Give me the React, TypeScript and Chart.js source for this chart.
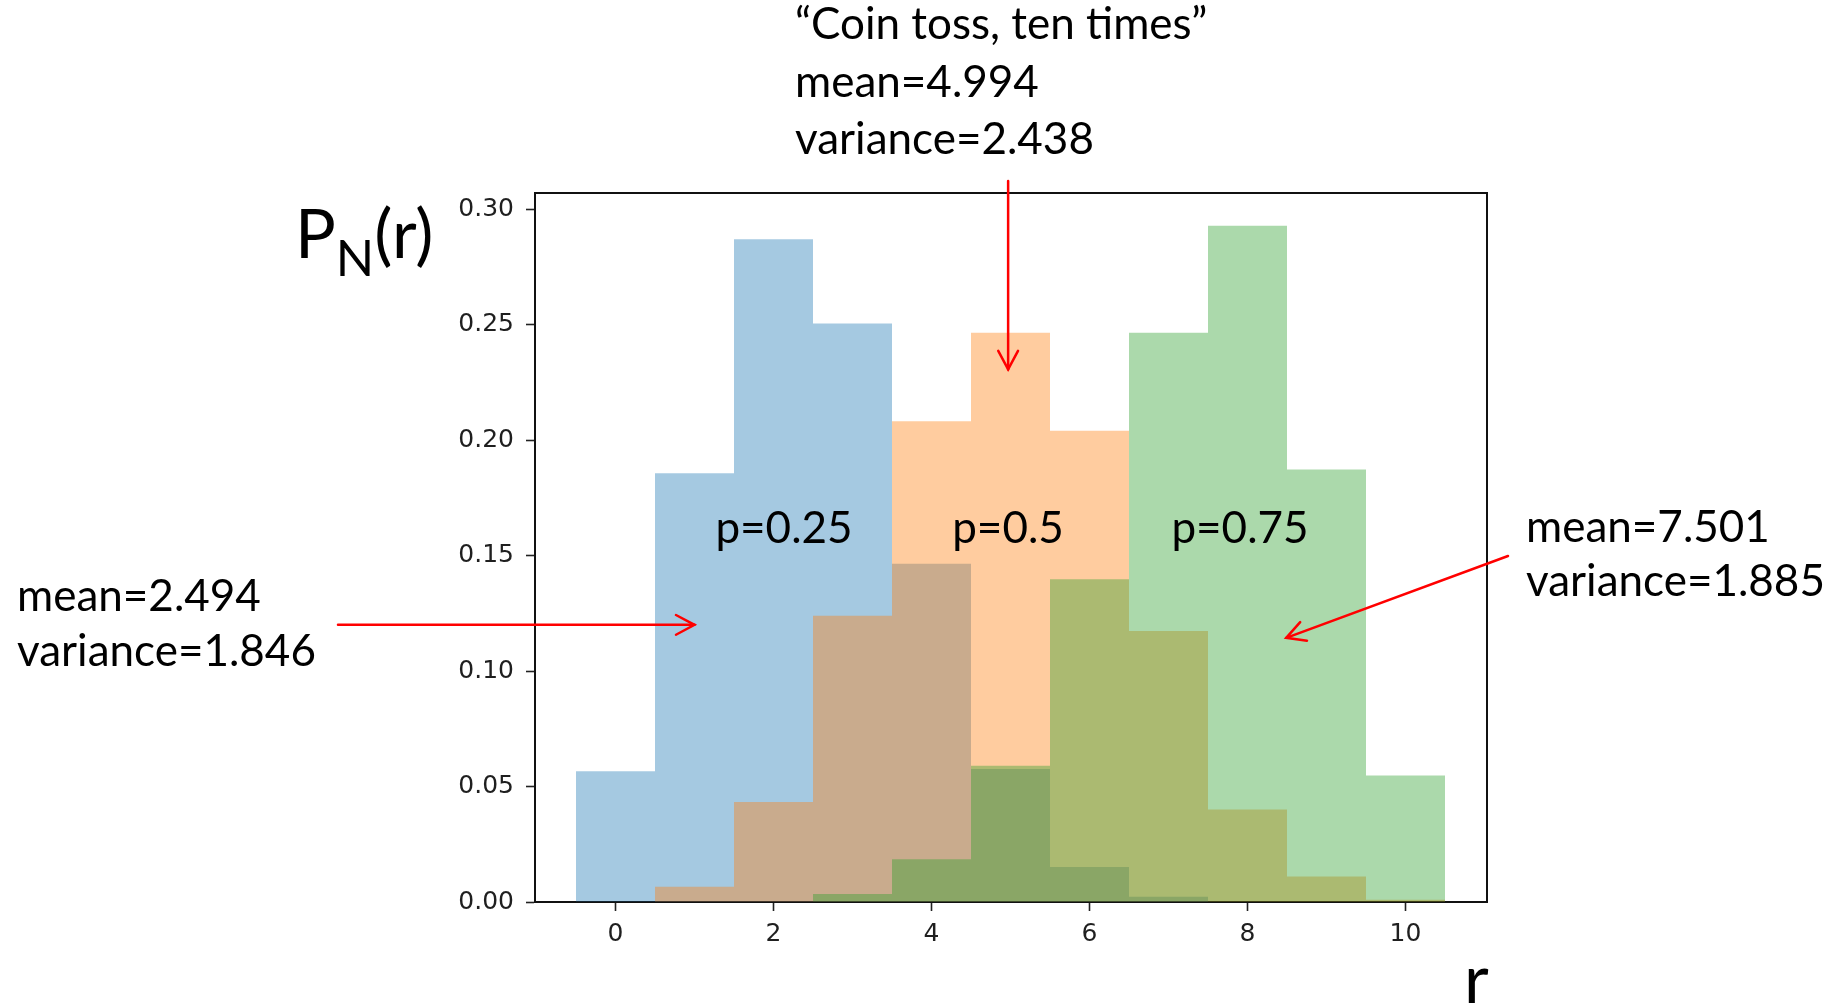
import React, { useEffect, useRef } from 'react';
import { Chart, registerables } from 'chart.js';

Chart.register(...registerables);

// ---- data ----
const R_VALUES = [0, 1, 2, 3, 4, 5, 6, 7, 8, 9, 10];
const P_025 = [0.0566, 0.1856, 0.287, 0.2505, 0.1465, 0.0576, 0.0152, 0.0023, 0, 0, 0];
const P_050 = [0, 0.0066, 0.0433, 0.1239, 0.2082, 0.2465, 0.204, 0.1173, 0.0401, 0.011, 0.001];
const P_075 = [0, 0, 0, 0.0035, 0.0185, 0.059, 0.1397, 0.2465, 0.2928, 0.1873, 0.0548];
const SERIES_LABELS = ['p=0.25', 'p=0.5', 'p=0.75'];
const X_TICKS = [0, 2, 4, 6, 8, 10];
const Y_TICKS = [0, 0.05, 0.1, 0.15, 0.2, 0.25, 0.3];
// x limits chosen so that bin edges fall on whole pixels (no anti-alias seams)
const X_RANGE = [-0.5 - 41 / 79, -0.5 - 41 / 79 + 952 / 79];
const Y_RANGE = [0, 0.307];

// annotation arrows: tail in page pixels, tip in data coordinates
const ARROWS = [
  { tailPx: [338, null], tip: [1.0, 0.12] },
  { tailPx: [null, 181], tip: [4.97, 0.2306] },
  { tailPx: [1508, 556], tip: [8.49, 0.1144] },
];

const COLORS = ['rgba(31,119,180,0.4)', 'rgba(255,127,14,0.4)', 'rgba(44,160,44,0.4)'];
const TICK_FONT = { family: '"DejaVu Sans", sans-serif', size: 25 };
const TEXT_FONT = 'Lato, "Open Sans", sans-serif';

const framePlugin = {
  id: 'frameAndArrows',
  afterDraw(chart: any) {
    const { ctx, chartArea } = chart;
    ctx.save();
    ctx.strokeStyle = '#111';
    ctx.lineWidth = 2;
    ctx.beginPath();
    ctx.moveTo(chartArea.left - 1, chartArea.top);
    ctx.lineTo(chartArea.right, chartArea.top);
    ctx.lineTo(chartArea.right, chartArea.bottom + 1);
    ctx.stroke();

    const xs = chart.scales.x;
    const ys = chart.scales.y;
    ctx.strokeStyle = '#ff0000';
    ctx.lineWidth = 2.5;
    ctx.lineCap = 'round';
    for (const a of ARROWS) {
      const tx = xs.getPixelForValue(a.tip[0]);
      const ty = ys.getPixelForValue(a.tip[1]);
      const sx = a.tailPx[0] == null ? tx : (a.tailPx[0] as number);
      const sy = a.tailPx[1] == null ? ty : (a.tailPx[1] as number);
      ctx.beginPath();
      ctx.moveTo(sx, sy);
      ctx.lineTo(tx, ty);
      ctx.stroke();
      const ang = Math.atan2(ty - sy, tx - sx);
      const len = 21;
      const spread = 0.49;
      ctx.beginPath();
      ctx.moveTo(tx - len * Math.cos(ang - spread), ty - len * Math.sin(ang - spread));
      ctx.lineTo(tx, ty);
      ctx.lineTo(tx - len * Math.cos(ang + spread), ty - len * Math.sin(ang + spread));
      ctx.stroke();
    }
    ctx.restore();
  },
};

export default function App() {
  const canvasRef = useRef<HTMLCanvasElement | null>(null);

  useEffect(() => {
    const canvas = canvasRef.current;
    if (!canvas) return;
    const seriesData = [P_025, P_050, P_075];
    const chart = new Chart(canvas, {
      type: 'bar',
      data: {
        datasets: seriesData.map((vals, i) => ({
          label: SERIES_LABELS[i],
          data: R_VALUES.map((r, j) => ({ x: r, y: vals[j] })),
          backgroundColor: COLORS[i],
          borderWidth: 0,
          grouped: false,
          barPercentage: 1,
          categoryPercentage: 1,
          inflateAmount: 0,
          order: 3 - i,
        })),
      },
      options: {
        responsive: false,
        animation: false,
        events: [],
        layout: { padding: { left: 435, top: 193, right: 347, bottom: 42 } },
        plugins: { legend: { display: false }, tooltip: { enabled: false } },
        scales: {
          x: {
            type: 'linear',
            min: X_RANGE[0],
            max: X_RANGE[1],
            offset: false,
            z: 1,
            afterBuildTicks: (s: any) => { s.ticks = X_TICKS.map((v) => ({ value: v })); },
            afterFit: (s: any) => { s.height = 60; },
            grid: { display: true, offset: false, drawOnChartArea: false, drawTicks: true, tickLength: 9, tickWidth: 1.6, tickColor: '#222' },
            border: { display: true, color: '#111', width: 2 },
            ticks: { font: TICK_FONT, color: '#1f1f1f', padding: 8, maxRotation: 0, autoSkip: false, callback: (v: any) => String(v) },
          },
          y: {
            type: 'linear',
            min: Y_RANGE[0],
            max: Y_RANGE[1],
            z: 1,
            afterBuildTicks: (s: any) => { s.ticks = Y_TICKS.map((v) => ({ value: v })); },
            afterFit: (s: any) => { s.width = 100; },
            grid: { display: true, drawOnChartArea: false, drawTicks: true, tickLength: 9, tickWidth: 1.6, tickColor: '#222' },
            border: { display: true, color: '#111', width: 2 },
            ticks: { font: TICK_FONT, color: '#1f1f1f', padding: 12, autoSkip: false, callback: (v: any) => Number(v).toFixed(2) },
          },
        },
      },
      plugins: [framePlugin],
    } as any);
    return () => chart.destroy();
  }, []);

  const txt: React.CSSProperties = {
    position: 'absolute',
    fontFamily: TEXT_FONT,
    fontSize: 44,
    color: '#000',
    whiteSpace: 'pre',
  };

  return (
    <div style={{ position: 'absolute', left: 0, top: 0, width: 1834, height: 1004, background: '#fff', overflow: 'hidden' }}>
      <canvas ref={canvasRef} width={1834} height={1004} style={{ display: 'block', width: 1834, height: 1004 }} />
      <div style={{ ...txt, left: 795, top: -6, lineHeight: '57.5px' }}>
        {'\u201CCoin toss, ten times\u201D\nmean=4.994\nvariance=2.438'}
      </div>
      <div style={{ ...txt, left: 17, top: 567, lineHeight: '55px' }}>{'mean=2.494\nvariance=1.846'}</div>
      <div style={{ ...txt, left: 1526, top: 498, lineHeight: '54px' }}>{'mean=7.501\nvariance=1.885'}</div>
      <div style={{ ...txt, left: 784, top: 499, lineHeight: '54px', transform: 'translateX(-50%)' }}>{SERIES_LABELS[0]}</div>
      <div style={{ ...txt, left: 1008, top: 499, lineHeight: '54px', transform: 'translateX(-50%)' }}>{SERIES_LABELS[1]}</div>
      <div style={{ ...txt, left: 1240, top: 499, lineHeight: '54px', transform: 'translateX(-50%)' }}>{SERIES_LABELS[2]}</div>
      <div style={{ ...txt, left: 295, top: 190, fontSize: 68, lineHeight: '84px' }}>
        P<span style={{ fontSize: '0.74em', position: 'relative', top: '0.36em' }}>N</span>(r)
      </div>
      <div style={{ ...txt, left: 1464, top: 935, fontSize: 68, lineHeight: '84px' }}>r</div>
    </div>
  );
}
